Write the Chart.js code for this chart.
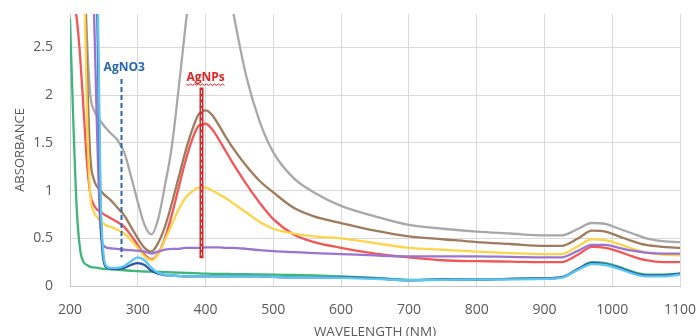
<!DOCTYPE html>
<html>
<head>
<meta charset="utf-8">
<script src="https://cdn.jsdelivr.net/npm/chart.js@4.4.1/dist/chart.umd.min.js"></script>
<style>
  html, body { margin: 0; padding: 0; background: #fff; overflow: hidden; }
  #wrap { width: 697px; height: 336px; overflow: hidden; }
</style>
</head>
<body>
<div id="wrap"><canvas id="absChart" width="697" height="348"></canvas></div>
<script>
// wavelengths (nm)
const wavelengths = [200, 205, 210, 215, 220, 225, 230, 235, 240, 245, 250, 255, 260, 270, 280, 290, 300, 310, 320, 330, 340, 350, 360, 370, 380, 390, 400, 410, 420, 430, 440, 460, 480, 500, 530, 560, 600, 650, 700, 750, 800, 850, 900, 925, 950, 970, 990, 1010, 1030, 1050, 1075, 1100];

// absorbance per sample
const gray = [4, 4, 4, 4, 3.6, 2.6, 2.0, 1.85, 1.78, 1.73, 1.68, 1.64, 1.6, 1.53, 1.4, 1.15, 0.88, 0.64, 0.54, 0.7, 1.05, 1.45, 2.05, 2.7, 3.3, 3.8, 4, 3.95, 3.7, 3.3, 2.9, 2.2, 1.72, 1.4, 1.13, 0.98, 0.84, 0.73, 0.64, 0.6, 0.57, 0.55, 0.53, 0.53, 0.6, 0.66, 0.65, 0.6, 0.55, 0.5, 0.47, 0.46];
const brown = [4, 4, 4, 4, 3.8, 2.3, 1.35, 1.12, 1.04, 1.0, 0.96, 0.93, 0.9, 0.82, 0.74, 0.62, 0.5, 0.4, 0.36, 0.45, 0.62, 0.86, 1.13, 1.4, 1.63, 1.8, 1.84, 1.79, 1.68, 1.56, 1.45, 1.26, 1.1, 0.98, 0.82, 0.73, 0.66, 0.58, 0.52, 0.49, 0.46, 0.44, 0.42, 0.42, 0.5, 0.58, 0.57, 0.52, 0.47, 0.43, 0.41, 0.4];
const red = [3.3, 3.0, 2.8, 2.4, 1.85, 1.3, 0.96, 0.85, 0.8, 0.78, 0.75, 0.73, 0.71, 0.67, 0.62, 0.53, 0.43, 0.33, 0.28, 0.34, 0.5, 0.74, 1.02, 1.3, 1.53, 1.68, 1.7, 1.64, 1.53, 1.41, 1.29, 1.07, 0.87, 0.7, 0.54, 0.46, 0.4, 0.34, 0.3, 0.27, 0.26, 0.255, 0.25, 0.25, 0.33, 0.41, 0.4, 0.36, 0.31, 0.27, 0.25, 0.25];
const yellow = [4, 4, 4, 4, 3.5, 1.8, 0.95, 0.78, 0.72, 0.68, 0.65, 0.63, 0.62, 0.59, 0.55, 0.48, 0.4, 0.31, 0.27, 0.33, 0.48, 0.64, 0.8, 0.92, 0.99, 1.03, 1.03, 1.0, 0.96, 0.92, 0.87, 0.77, 0.67, 0.6, 0.55, 0.52, 0.5, 0.45, 0.4, 0.38, 0.36, 0.345, 0.335, 0.335, 0.42, 0.49, 0.48, 0.44, 0.39, 0.35, 0.33, 0.32];
const purple = [4, 4, 4, 4, 4, 4, 4, 3.0, 1.6, 0.6, 0.42, 0.4, 0.395, 0.39, 0.38, 0.375, 0.37, 0.36, 0.34, 0.36, 0.38, 0.39, 0.39, 0.4, 0.4, 0.4, 0.405, 0.405, 0.405, 0.4, 0.4, 0.39, 0.375, 0.365, 0.355, 0.345, 0.335, 0.32, 0.31, 0.31, 0.31, 0.305, 0.3, 0.3, 0.37, 0.43, 0.43, 0.4, 0.37, 0.35, 0.34, 0.34];
const lightBlue = [4, 4, 4, 4, 4, 4, 4, 4, 3.5, 1.0, 0.3, 0.2, 0.19, 0.19, 0.21, 0.26, 0.3, 0.27, 0.19, 0.14, 0.12, 0.11, 0.105, 0.1, 0.1, 0.1, 0.1, 0.1, 0.1, 0.1, 0.1, 0.1, 0.1, 0.095, 0.09, 0.09, 0.085, 0.075, 0.06, 0.065, 0.07, 0.07, 0.075, 0.085, 0.17, 0.23, 0.22, 0.18, 0.13, 0.1, 0.1, 0.12];
const darkBlue = [4, 4, 4, 4, 4, 4, 4, 4, 3.0, 0.8, 0.25, 0.19, 0.18, 0.18, 0.19, 0.22, 0.24, 0.22, 0.16, 0.13, 0.115, 0.11, 0.105, 0.1, 0.1, 0.1, 0.1, 0.1, 0.1, 0.1, 0.1, 0.1, 0.1, 0.095, 0.09, 0.09, 0.09, 0.08, 0.06, 0.07, 0.07, 0.075, 0.08, 0.09, 0.18, 0.24, 0.23, 0.19, 0.14, 0.11, 0.11, 0.13];
const green = [2.8, 1.7, 0.8, 0.38, 0.25, 0.22, 0.2, 0.195, 0.19, 0.185, 0.18, 0.178, 0.175, 0.17, 0.165, 0.16, 0.155, 0.152, 0.15, 0.148, 0.145, 0.143, 0.14, 0.138, 0.135, 0.132, 0.13, 0.128, 0.127, 0.126, 0.125, 0.123, 0.122, 0.12, 0.115, 0.11, 0.1, 0.085, 0.065, 0.07, 0.07, 0.075, 0.08, 0.09, 0.18, 0.25, 0.24, 0.2, 0.15, 0.12, 0.12, 0.13];

const yTicks = [0, 0.5, 1, 1.5, 2, 2.5];

const series = [
  { name: 'lightBlue', values: lightBlue, color: '#5cc6ef' },
  { name: 'darkBlue', values: darkBlue, color: '#2b55a3' },
  { name: 'green', values: green, color: '#3fb57c' },
  { name: 'purple', values: purple, color: '#9b74cf' },
  { name: 'yellow', values: yellow, color: '#ffd44d' },
  { name: 'red', values: red, color: '#f25757' },
  { name: 'brown', values: brown, color: '#9e7b5c' },
  { name: 'gray', values: gray, color: '#a8a8a8' }
];

// markers for the peaks
const markers = [
  { label: 'AgNO3', x: 275, y0: 0.3, y1: 2.17, labelX: 280, labelY: 2.29, color: '#2767b0', type: 'blue' },
  { label: 'AgNPs', x: 394, y0: 0.29, y1: 2.08, labelX: 400, labelY: 2.18, color: '#e42222', type: 'red' }
];

const markerPlugin = {
  id: 'markers',
  afterDatasetsDraw(chart) {
    const { ctx, scales: { x, y } } = chart;
    ctx.save();
    markers.forEach(m => {
      const px = Math.round(x.getPixelForValue(m.x)) + 0.5;
      const top = y.getPixelForValue(m.y1);
      const bot = y.getPixelForValue(m.y0);
      if (m.type === 'blue') {
        ctx.strokeStyle = m.color;
        ctx.lineWidth = 2;
        ctx.setLineDash([5, 3]);
        ctx.beginPath(); ctx.moveTo(px, top); ctx.lineTo(px, bot); ctx.stroke();
      } else {
        ctx.setLineDash([]);
        ctx.strokeStyle = '#d42a2a';
        ctx.lineWidth = 4;
        ctx.beginPath(); ctx.moveTo(px, top); ctx.lineTo(px, bot); ctx.stroke();
        ctx.strokeStyle = '#ffffff';
        ctx.lineWidth = 1;
        ctx.setLineDash([3, 3]);
        ctx.beginPath(); ctx.moveTo(px, top + 3); ctx.lineTo(px, bot); ctx.stroke();
      }
      ctx.setLineDash([]);
      ctx.font = 'bold 12px "Open Sans"';
      ctx.fillStyle = m.color;
      ctx.textAlign = 'center';
      ctx.textBaseline = 'middle';
      const lx = x.getPixelForValue(m.labelX);
      const ly = y.getPixelForValue(m.labelY);
      ctx.fillText(m.label, lx, ly);
      if (m.type === 'red') {
        // wavy underline
        const w = ctx.measureText(m.label).width;
        ctx.strokeStyle = '#e42222';
        ctx.lineWidth = 1;
        ctx.beginPath();
        let up = true;
        for (let sx = lx - w / 2; sx <= lx + w / 2; sx += 2) {
          const sy = ly + 6 + (up ? 0 : 1.5);
          if (sx === lx - w / 2) ctx.moveTo(sx, sy); else ctx.lineTo(sx, sy);
          up = !up;
        }
        ctx.stroke();
      }
    });
    ctx.restore();
  }
};

const ctx = document.getElementById('absChart').getContext('2d');
new Chart(ctx, {
  type: 'line',
  data: {
    datasets: series.map(s => ({
      label: s.name,
      data: wavelengths.map((w, i) => ({ x: w, y: s.values[i] })),
      borderColor: s.color,
      borderWidth: 2.3,
      pointRadius: 0,
      fill: false,
      cubicInterpolationMode: 'monotone'
    }))
  },
  options: {
    responsive: false,
    animation: false,
    devicePixelRatio: 1,
    layout: { padding: { top: 14, right: 17, left: 0, bottom: 0 } },
    plugins: { legend: { display: false }, tooltip: { enabled: false } },
    scales: {
      x: {
        type: 'linear',
        min: 200,
        max: 1100,
        // fixed axis box so the plot area lands where the original is
        afterFit(scale) { scale.height = 62; scale.paddingLeft = 0; scale.paddingRight = 0; },
        ticks: { stepSize: 100, color: '#595959', font: { family: 'Open Sans', size: 14 }, padding: 16, maxRotation: 0, callback: v => String(v) },
        grid: { color: '#d9d9d9', drawTicks: false },
        border: { color: '#c8c8c8' },
        title: { display: true, text: 'WAVELENGTH (NM)', color: '#595959', font: { family: 'Open Sans', size: 13.5 }, padding: { top: 0, bottom: 8 } }
      },
      y: {
        min: 0,
        max: 2.85,
        afterFit(scale) { scale.width = 70; scale.paddingTop = 0; scale.paddingBottom = 0; },
        afterBuildTicks(scale) { scale.ticks = yTicks.map(v => ({ value: v })); },
        ticks: { color: '#595959', font: { family: 'Open Sans', size: 14 }, padding: 17, callback: v => String(v) },
        grid: { color: '#d9d9d9', drawTicks: false },
        border: { color: '#c8c8c8' },
        title: { display: true, text: 'ABSORBANCE', color: '#595959', font: { family: 'Open Sans', size: 13 }, padding: { top: 12, bottom: 0 } }
      }
    }
  },
  plugins: [markerPlugin]
});
</script>
</body>
</html>
